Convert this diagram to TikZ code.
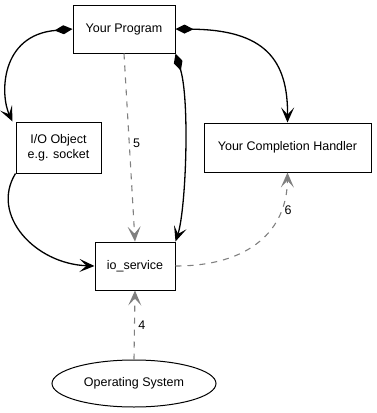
\documentclass[tikz,border=0pt]{standalone}
\usepackage{fontspec}
\setmainfont{Liberation Sans}
\usetikzlibrary{arrows.meta, shapes.geometric}

\begin{document}
\begin{tikzpicture}[x=1pt, y=-1pt, font=\fontsize{12.5}{15}\selectfont,
  box/.style={draw, line width=1pt, align=center, inner sep=2pt},
  flow/.style={line width=1.3pt, -{Stealth[length=15pt, width=13pt, inset=7pt]}},
  owns/.style={flow, {Diamond[length=18pt, width=9pt]}-{Stealth[length=15pt, width=13pt, inset=7pt]}},
  async/.style={gray, line width=1.1pt, dash pattern=on 6pt off 6pt, -{Stealth[length=15pt, width=13pt, inset=7pt]}}]
\useasboundingbox (0,0) rectangle (377,413);
\node[box, minimum width=102pt, minimum height=48pt] (prog) at (124,29) {Your Program};
\node[box, minimum width=85pt, minimum height=51pt] (ioobj) at (58.5,147.5) {I/O Object\\e.g. socket};
\node[box, minimum width=167pt, minimum height=49pt] (handler) at (287.5,147.5) {Your Completion Handler};
\node[box, minimum width=80pt, minimum height=48pt] (svc) at (135,266) {io\_service};
\node[draw, ellipse, line width=1pt, minimum width=164pt, minimum height=47pt] (os) at (134,383.5) {Operating System};

\draw[owns] (prog.west) .. controls (0,35) and (0,95) .. ([xshift=-3pt]ioobj.north west);
\draw[owns] (prog.east) .. controls (265,30) and (288,60) .. (handler.north);
\draw[owns] (prog.south east) .. controls (190,100) and (186,210) .. (svc.north east);
\draw[flow] (ioobj.south west) .. controls (-10,215) and (35,264) .. (svc.west);
\draw[async] (prog.south) -- node[pos=0.48, right=0pt, black] {5} (svc.north);
\draw[async] (svc.east) .. controls (250,266) and (287,230) .. node[pos=0.76, right=0pt, black] {6} (handler.south);
\draw[async] (os.north) -- node[pos=0.5, right=0pt, black] {4} (svc.south);
\end{tikzpicture}
\end{document}
